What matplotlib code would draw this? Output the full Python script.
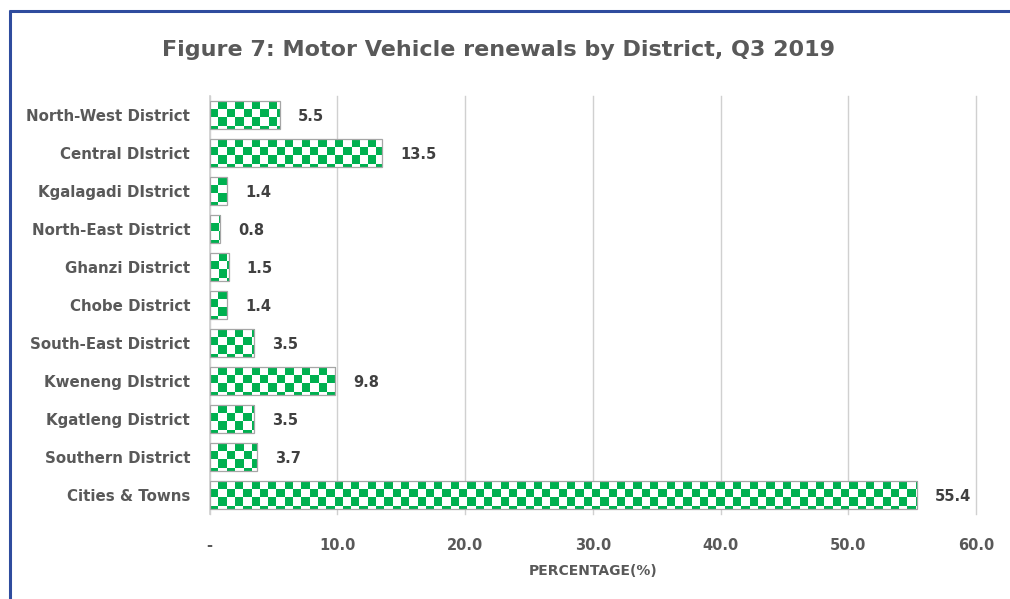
import numpy as np
import matplotlib
matplotlib.use("Agg")
import matplotlib.pyplot as plt
from matplotlib.colors import ListedColormap
from matplotlib.lines import Line2D

categories = ["North-West District", "Central DIstrict", "Kgalagadi DIstrict",
              "North-East District", "Ghanzi District", "Chobe District",
              "South-East District", "Kweneng DIstrict", "Kgatleng District",
              "Southern District", "Cities & Towns"]
values = [5.5, 13.5, 1.4, 0.8, 1.5, 1.4, 3.5, 9.8, 3.5, 3.7, 55.4]
xticks = [0, 10, 20, 30, 40, 50, 60]
xticklabels = ["-", "10.0", "20.0", "30.0", "40.0", "50.0", "60.0"]
title = "Figure 7: Motor Vehicle renewals by District, Q3 2019"
xlabel = "PERCENTAGE(%)"

GREEN = "#00B050"
W, H = 1010, 599
fig = plt.figure(figsize=(W / 100, H / 100), dpi=100)
fig.patch.set_facecolor("white")
ax = fig.add_axes([209.5 / W, 1 - 514 / H, (976 - 209.5) / W, (514 - 96) / H])

n = len(categories)
ypos = np.arange(n)
bh = 0.74
ax.set_xlim(0, 60)
ax.set_ylim(n - 0.5, -0.5)

# pixel-based checker cell size converted to data units
fig.canvas.draw()
p0 = ax.transData.transform((0, 0))
p1 = ax.transData.transform((10, 1))
px_per_x = abs(p1[0] - p0[0]) / 10
px_per_y = abs(p1[1] - p0[1])
cell_px = 8.3
cx = cell_px / px_per_x
cy = cell_px / px_per_y
cmap = ListedColormap(["white", GREEN])

bars = ax.barh(ypos, values, height=bh, color="white", edgecolor="none", zorder=2)
for b, v, y in zip(bars, values, ypos):
    ncol = int(np.ceil(v / cx)) + 1
    nrow = int(np.ceil(bh / cy)) + 1
    arr = (np.add.outer(np.arange(nrow), np.arange(ncol)) % 2).astype(float)
    y0 = y - bh / 2
    im = ax.imshow(arr, cmap=cmap, vmin=0, vmax=1, interpolation="nearest",
                   extent=(0, ncol * cx, y0 + nrow * cy, y0), aspect="auto",
                   zorder=3, origin="upper")
    im.set_clip_path(b)
ax.barh(ypos, values, height=bh, facecolor="none", edgecolor="#A6A6A6",
        linewidth=0.9, zorder=4)

ax.set_xlim(0, 60)
ax.set_ylim(n - 0.5, -0.5)

for v, y in zip(values, ypos):
    ax.annotate(f"{v:.1f}", xy=(v, y), xytext=(13, -1), textcoords="offset points",
                ha="left", va="center", fontsize=10.5, fontweight="bold",
                color="#404040", zorder=5)

ax.set_yticks(ypos)
ax.set_yticklabels(categories, fontsize=10.8, fontweight="bold", color="#595959")
ax.set_xticks(xticks)
ax.set_xticklabels(xticklabels, fontsize=10.5, fontweight="bold", color="#595959")
ax.tick_params(axis="both", length=0)
ax.tick_params(axis="x", pad=17)
ax.tick_params(axis="y", pad=14)
ax.set_xlabel(xlabel, fontsize=10, fontweight="bold", color="#595959", labelpad=8)

ax.grid(axis="x", color="#D0D0D0", linewidth=1.0, zorder=0)
for gl in ax.get_xgridlines():
    gl.set_clip_on(False)
ax.set_axisbelow(True)
for s in ["top", "right", "bottom"]:
    ax.spines[s].set_visible(False)
ax.spines["left"].set_color("#D0D0D0")
ax.spines["left"].set_linewidth(1.2)

fig.text(499 / W, 1 - 50 / H, title, ha="center", va="center", fontsize=16,
         fontweight="bold", color="#595959")

# frame lines (top and left)
blue = "#2F4C9E"
fig.add_artist(Line2D([9 / W, 1], [1 - 11 / H, 1 - 11 / H], color=blue,
                      linewidth=2.2, transform=fig.transFigure,
                      solid_capstyle="butt"))
fig.add_artist(Line2D([10 / W, 10 / W], [1 - 10 / H, 0], color=blue,
                      linewidth=2.2, transform=fig.transFigure,
                      solid_capstyle="butt"))

fig.savefig("out.png", dpi=100, facecolor="white")
